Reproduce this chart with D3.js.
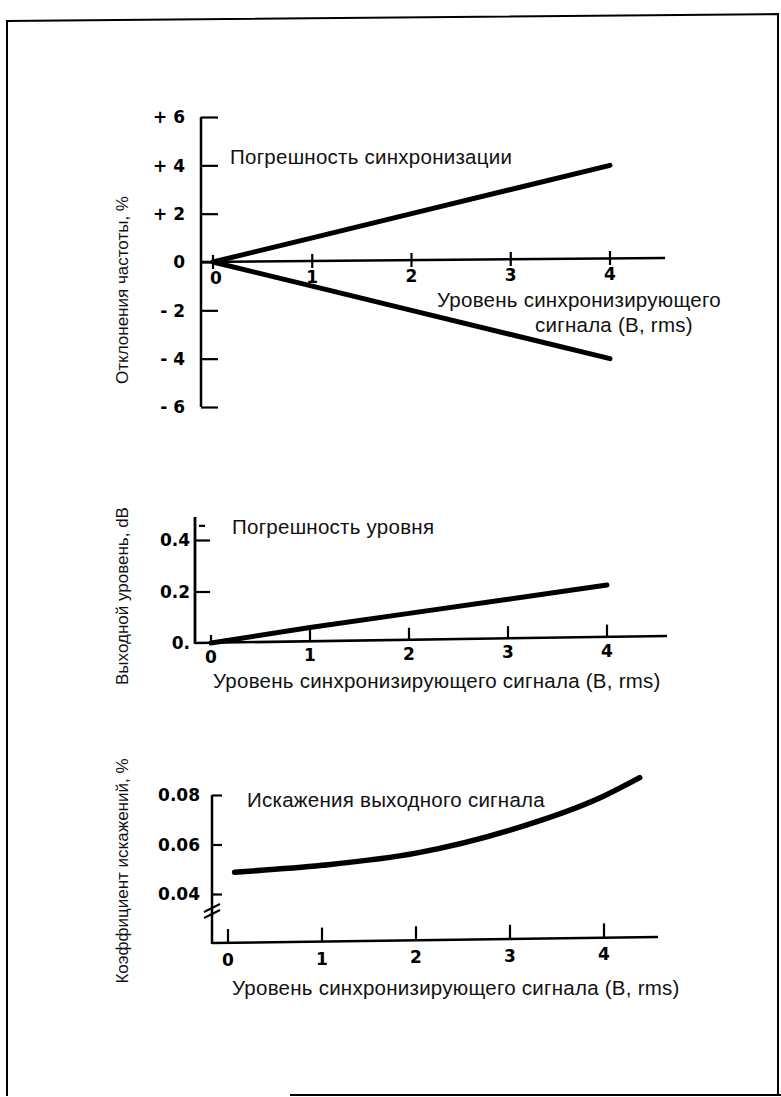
<!DOCTYPE html>
<html>
<head>
<meta charset="utf-8">
<script src="https://cdn.jsdelivr.net/npm/d3@7"></script>
<style>
  html, body { margin: 0; padding: 0; background: #fff; }
  svg { display: block; }
  .lbl { font-family: "Liberation Sans", Arial, sans-serif; font-size: 20.5px; letter-spacing: 0.25px; fill: #111; }
  .ylbl { font-family: "Liberation Sans", Arial, sans-serif; font-size: 17px; fill: #111; }
  .tick text { font-family: "DejaVu Sans", sans-serif; font-weight: bold; font-size: 17px; fill: #000; }
</style>
</head>
<body>
<svg id="chart" width="781" height="1097"></svg>
<script>
// ---------- DATA ----------
// Chart 1: frequency deviation (synchronisation error)
const syncX = [0, 1, 2, 3, 4];
const syncUpper = [0, 1, 2, 3, 4];
const syncLower = [0, -1, -2, -3, -4];
const syncYTicks = [6, 4, 2, 0, -2, -4, -6];
const syncYTickLabels = ["+ 6", "+ 4", "+ 2", "0", "- 2", "- 4", "- 6"];
const xTicks = [0, 1, 2, 3, 4];

// Chart 2: output level error
const levelX = [0, 1, 2, 3, 4];
const levelY = [0, 0.06, 0.115, 0.17, 0.225];
const levelYTicks = [0, 0.2, 0.4];
const levelYTickLabels = ["0.", "0.2", "0.4"];

// Chart 3: output distortion
const distX = [0.07, 1, 2, 3, 4, 4.38];
const distY = [0.0488, 0.0516, 0.0565, 0.0658, 0.0796, 0.087];
const distYTicks = [0.04, 0.06, 0.08];
const distYTickLabels = ["0.04", "0.06", "0.08"];

// Texts
const titles = ["Погрешность синхронизации", "Погрешность уровня", "Искажения выходного сигнала"];
const yTitles = ["Отклонения частоты, %", "Выходной уровень, dB", "Коэффициент искажений, %"];
const xTitle = "Уровень синхронизирующего сигнала (В, rms)";
const xTitleTop = ["Уровень синхронизирующего", "сигнала (В, rms)"];

// ---------- DRAW ----------
const svg = d3.select("#chart");
svg.append("rect").attr("width", 781).attr("height", 1097).attr("fill", "#fff");

// page frame (scanned sheet border)
svg.append("path")
  .attr("d", "M7,1096 L7,21 L778,14 L778,1096")
  .attr("fill", "none").attr("stroke", "#000").attr("stroke-width", 2);
svg.append("line").attr("x1", 290).attr("x2", 781).attr("y1", 1095).attr("y2", 1095)
  .attr("stroke", "#000").attr("stroke-width", 2);

function styleAxis(g) {
  g.selectAll(".domain").remove();
  g.selectAll(".tick line").attr("stroke", "#000").attr("stroke-width", 2.2);
}

const thick = 5;

// ===== Chart 1 =====
{
  const x = d3.scaleLinear().domain([0, 4]).range([213, 610]);
  const y = d3.scaleLinear().domain([-6, 6]).range([407, 117]);
  const axX = 201;
  svg.append("line").attr("x1", axX).attr("x2", axX).attr("y1", y(6)).attr("y2", y(-6))
    .attr("stroke", "#000").attr("stroke-width", 2.5);
  svg.append("line").attr("x1", axX).attr("x2", 665).attr("y1", y(0)).attr("y2", y(0) - 4)
    .attr("stroke", "#000").attr("stroke-width", 2.5);
  const gy = svg.append("g").attr("transform", `translate(${axX},0)`)
    .call(d3.axisRight(y).tickValues(syncYTicks).tickSize(17).tickFormat(() => ""));
  styleAxis(gy);
  gy.selectAll(".tick").append("text")
    .attr("x", -16).attr("dy", "0.35em").attr("text-anchor", "end")
    .text(d => syncYTickLabels[syncYTicks.indexOf(d)]);
  const gx = svg.append("g").attr("transform", `translate(0,${y(0) - 7})`)
    .call(d3.axisBottom(x).tickValues(xTicks).tickSize(14).tickFormat(() => ""));
  styleAxis(gx);
  gx.selectAll(".tick").each(function(d) {
    d3.select(this).attr("transform", `translate(${x(d)},${-d})`);
  });
  gx.selectAll(".tick").append("text")
    .attr("y", 29).attr("x", d => d === 0 ? 3 : 0).attr("text-anchor", "middle").text(d => d);

  const line = d3.line().x((d, i) => x(syncX[i])).y(d => y(d));
  svg.append("path").datum(syncUpper).attr("d", line)
    .attr("fill", "none").attr("stroke", "#000").attr("stroke-width", thick).attr("stroke-linecap", "round");
  svg.append("path").datum(syncLower).attr("d", line)
    .attr("fill", "none").attr("stroke", "#000").attr("stroke-width", thick).attr("stroke-linecap", "round");

  svg.append("text").attr("class", "lbl").attr("x", 230).attr("y", 164).text(titles[0]);
  svg.append("text").attr("class", "lbl").attr("x", 437).attr("y", 307).text(xTitleTop[0]);
  svg.append("text").attr("class", "lbl").attr("x", 535).attr("y", 332).text(xTitleTop[1]);
  svg.append("text").attr("class", "ylbl").attr("transform", "translate(128,290) rotate(-90)")
    .attr("text-anchor", "middle").text(yTitles[0]);
}

// ===== Chart 2 =====
{
  const x = d3.scaleLinear().domain([0, 4]).range([211, 607]);
  const y = d3.scaleLinear().domain([0, 0.4]).range([643, 540]);
  const axX = 195;
  svg.append("line").attr("x1", axX).attr("x2", axX).attr("y1", 517).attr("y2", y(0) + 1)
    .attr("stroke", "#000").attr("stroke-width", 2.8);
  svg.append("line").attr("x1", axX).attr("x2", 667).attr("y1", y(0)).attr("y2", y(0) - 7)
    .attr("stroke", "#000").attr("stroke-width", 2.5);
  const gy = svg.append("g").attr("transform", `translate(${axX},0)`)
    .call(d3.axisRight(y).tickValues(levelYTicks).tickSize(15).tickFormat(() => ""));
  styleAxis(gy);
  gy.selectAll(".tick").filter(d => d === 0).select("line").remove();
  gy.selectAll(".tick").append("text")
    .attr("x", -5).attr("dy", "0.35em").attr("text-anchor", "end")
    .text(d => levelYTickLabels[levelYTicks.indexOf(d)]);
  svg.append("line").attr("x1", axX + 4).attr("x2", axX + 10).attr("y1", y(0.455)).attr("y2", y(0.455))
    .attr("stroke", "#000").attr("stroke-width", 2.2);
  const gx = svg.append("g").attr("transform", `translate(0,${y(0)})`)
    .call(d3.axisTop(x).tickValues(xTicks).tickSize(12).tickFormat(() => ""));
  styleAxis(gx);
  gx.selectAll(".tick").each(function(d) {
    d3.select(this).attr("transform", `translate(${x(d)},${-d * 1.6})`);
  });
  gx.selectAll(".tick").filter(d => d === 0).select("line").attr("y2", -8);
  gx.selectAll(".tick").append("text")
    .attr("y", 20).attr("text-anchor", "middle").text(d => d);

  const line = d3.line().x((d, i) => x(levelX[i])).y(d => y(d));
  svg.append("path").datum(levelY).attr("d", line)
    .attr("fill", "none").attr("stroke", "#000").attr("stroke-width", thick).attr("stroke-linecap", "round");

  svg.append("text").attr("class", "lbl").attr("x", 213).attr("y", 688).text(titles[1] === "" ? "" : xTitle);
  svg.append("text").attr("class", "lbl").attr("x", 232).attr("y", 534).text(titles[1]);
  svg.append("text").attr("class", "ylbl").attr("transform", "translate(128,596) rotate(-90)")
    .attr("text-anchor", "middle").text(yTitles[1]);
}

// ===== Chart 3 =====
{
  const x = d3.scaleLinear().domain([0, 4]).range([228, 604]);
  const y = d3.scaleLinear().domain([0.04, 0.08]).range([894, 795]);
  const axX = 212;
  const baseY = 943;
  svg.append("line").attr("x1", axX).attr("x2", axX).attr("y1", y(0.08)).attr("y2", baseY + 1)
    .attr("stroke", "#000").attr("stroke-width", 2.5);
  svg.append("line").attr("x1", axX).attr("x2", 658).attr("y1", baseY).attr("y2", baseY - 6)
    .attr("stroke", "#000").attr("stroke-width", 2.5);
  [0, 6].forEach(o => {
    svg.append("line").attr("x1", axX - 8).attr("x2", axX + 8).attr("y1", 912 + o).attr("y2", 904 + o)
      .attr("stroke", "#000").attr("stroke-width", 2);
  });
  const gy = svg.append("g").attr("transform", `translate(${axX},0)`)
    .call(d3.axisRight(y).tickValues(distYTicks).tickSize(10).tickFormat(() => ""));
  styleAxis(gy);
  gy.selectAll(".tick").append("text")
    .attr("x", -12).attr("dy", "0.35em").attr("text-anchor", "end")
    .text(d => distYTickLabels[distYTicks.indexOf(d)]);
  const gx = svg.append("g").attr("transform", `translate(0,${baseY})`)
    .call(d3.axisTop(x).tickValues(xTicks).tickSize(14).tickFormat(() => ""));
  styleAxis(gx);
  gx.selectAll(".tick").each(function(d) {
    d3.select(this).attr("transform", `translate(${x(d)},${-d * 1.4})`);
  });
  gx.selectAll(".tick").append("text")
    .attr("y", 23).attr("text-anchor", "middle").text(d => d);

  const line = d3.line().x((d, i) => x(distX[i])).y(d => y(d)).curve(d3.curveMonotoneX);
  svg.append("path").datum(distY).attr("d", line)
    .attr("fill", "none").attr("stroke", "#000").attr("stroke-width", thick + 0.5).attr("stroke-linecap", "round");

  svg.append("text").attr("class", "lbl").attr("x", 247).attr("y", 807).text(titles[2]);
  svg.append("text").attr("class", "lbl").attr("x", 232).attr("y", 995).text(xTitle);
  svg.append("text").attr("class", "ylbl").attr("transform", "translate(128,871) rotate(-90)")
    .attr("text-anchor", "middle").text(yTitles[2]);
}
</script>
</body>
</html>
